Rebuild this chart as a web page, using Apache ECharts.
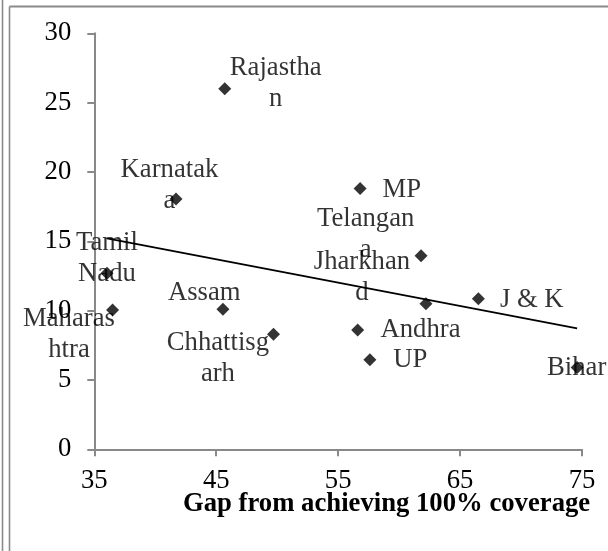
<!DOCTYPE html>
<html>
<head>
<meta charset="utf-8">
<script src="https://cdn.jsdelivr.net/npm/echarts@6/dist/echarts.min.js"></script>
<style>html,body{margin:0;padding:0;background:#fff;}#c{width:608px;height:551px;}</style>
</head>
<body>
<div id="c"></div>
<script>
// ---- data ----
var states = ["Rajasthan","Karnataka","Tamil Nadu","Maharashtra","Assam","Chhattisgarh","MP","Telangana","Jharkhand","J & K","Andhra","UP","Bihar"];
var labelTexts = ["Rajastha\nn","Karnatak\na","Tamil\nNadu","Maharas\nhtra","Assam","Chhattisg\narh","MP","Telangan\na","Jharkhan\nd","J & K","Andhra","UP","Bihar"];
var gapValues = [45.7, 41.7, 36.04, 36.5, 45.55, 49.7, 56.8, 61.8, 62.2, 66.5, 56.6, 57.6, 74.6];
var yValues = [26.0, 18.05, 12.7, 10.05, 10.1, 8.3, 18.8, 13.95, 10.5, 10.85, 8.6, 6.45, 5.9];
var xTicks = [35, 45, 55, 65, 75];
var yTicks = [0, 5, 10, 15, 20, 25, 30];
var xTitle = "Gap from achieving 100% coverage";

// ---- label layout (style only) ----
var labelOffsets = [[51,-5],[-6.5,-14],[0,-15],[-43.6,24.5],[-18.7,-16],[-55.6,24.5],[41.7,1.5],[-55.4,-21],[-64,-26],[53.4,1.5],[62.8,0],[40.4,0],[-0.5,1]];

var FONT = "'Liberation Serif','Times New Roman',serif";
var FS = 26.7;

// linear trend (least squares, like spreadsheet trendline)
var n = gapValues.length, mx = 0, my = 0;
for (var i = 0; i < n; i++) { mx += gapValues[i]; my += yValues[i]; }
mx /= n; my /= n;
var sxy = 0, sxx = 0;
for (var i = 0; i < n; i++) { sxy += (gapValues[i]-mx)*(yValues[i]-my); sxx += (gapValues[i]-mx)*(gapValues[i]-mx); }
var slope = sxy / sxx, icpt = my - slope * mx;
var xmin = Math.min.apply(null, gapValues), xmax = Math.max.apply(null, gapValues);
var trend = [[xmin, icpt + slope*xmin], [xmax, icpt + slope*xmax]];

var points = gapValues.map(function (x, i) { return [x, yValues[i]]; });
var labelPoints = gapValues.map(function (x, i) {
  return {
    value: [x, yValues[i]],
    name: states[i],
    label: { show: true, formatter: labelTexts[i], offset: labelOffsets[i] }
  };
});

var chart = echarts.init(document.getElementById('c'), null, { renderer: 'canvas' });
chart.setOption({
  animation: false,
  backgroundColor: '#ffffff',
  grid: { left: 94.3, right: 26, top: 33.3, bottom: 101.7, containLabel: false },
  xAxis: {
    type: 'value', min: xTicks[0], max: xTicks[xTicks.length-1], interval: 10,
    axisLine: { show: true, lineStyle: { color: '#898989', width: 2 } },
    axisTick: { show: true, length: 7, lineStyle: { color: '#898989', width: 2 } },
    splitLine: { show: false },
    axisLabel: { color: '#000', fontFamily: FONT, fontSize: FS, margin: 18 }
  },
  yAxis: {
    type: 'value', min: yTicks[0], max: yTicks[yTicks.length-1], interval: 5,
    axisLine: { show: true, lineStyle: { color: '#898989', width: 2 } },
    axisTick: { show: true, length: 7, lineStyle: { color: '#898989', width: 2 } },
    splitLine: { show: false },
    axisLabel: { color: '#000', fontFamily: FONT, fontSize: FS, margin: 23, padding: [5, 0, 0, 0] }
  },
  graphic: [
    { type: 'line', shape: { x1: 2.5, y1: 0, x2: 2.5, y2: 551 }, style: { stroke: '#8a8a8a', lineWidth: 1.6 } },
    { type: 'line', shape: { x1: 9.5, y1: 6.5, x2: 9.5, y2: 551 }, style: { stroke: '#8a8a8a', lineWidth: 1.6 } },
    { type: 'line', shape: { x1: 9.5, y1: 6.5, x2: 608, y2: 6.5 }, style: { stroke: '#8a8a8a', lineWidth: 2 } },
    { type: 'text', left: 183, top: 491, style: { text: xTitle, font: 'bold ' + FS + 'px ' + FONT, fill: '#000' } }
  ],
  series: [
    {
      type: 'scatter', z: 2, symbolSize: 0, silent: true,
      data: labelPoints,
      label: {
        show: true, position: 'inside', color: '#000', fontFamily: FONT, fontSize: FS,
        lineHeight: 31, align: 'center', verticalAlign: 'middle'
      }
    },
    {
      type: 'line', z: 3, data: trend, symbol: 'none', silent: true,
      lineStyle: { color: '#000', width: 1.8 }
    },
    {
      type: 'scatter', z: 5, symbol: 'diamond', symbolSize: 13,
      itemStyle: { color: '#000' },
      data: points
    }
  ]
});
</script>
</body>
</html>
